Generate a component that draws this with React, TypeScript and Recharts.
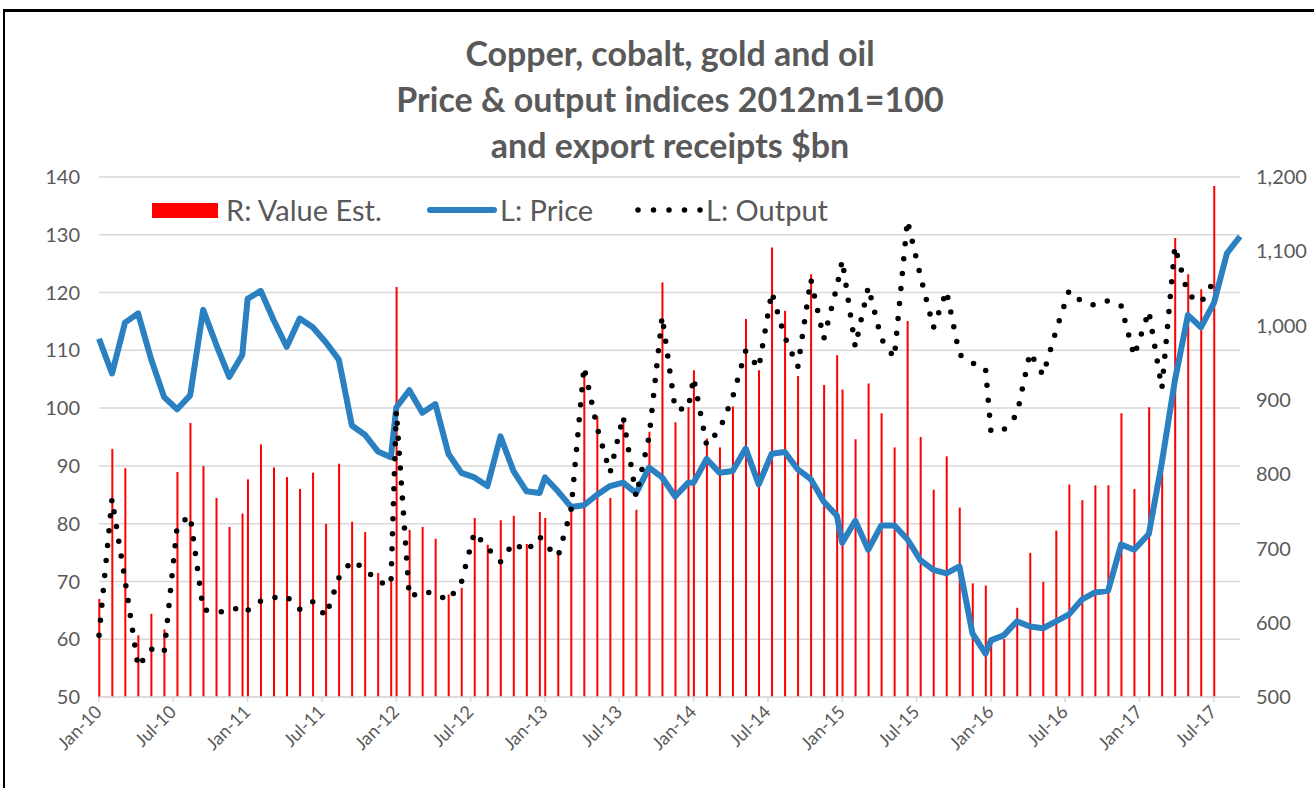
import React from 'react';
import {
  ComposedChart,
  Bar,
  Line,
  XAxis,
  YAxis,
  CartesianGrid,
} from 'recharts';

// Colours taken from the Excel original
const RED = '#FF0000';
const BLUE = '#2A80C0';
const GRID = '#D9D9D9';
const TEXT = '#595959';
const FONT = 'Lato, "Liberation Sans", sans-serif';

// Monthly price index, Jan-10 .. Aug-17 (left axis)
const PRICE = [
  112.0, 106.0, 114.8, 116.4, 108.5, 101.9, 99.8, 102.2, 117.0, 111.0, 105.4, 109.2,
  118.9, 120.3, 115.2, 110.6, 115.5, 114.0, 111.4, 108.4, 97.0, 95.4, 92.5, 91.5,
  100.1, 103.1, 99.2, 100.7, 92.1, 88.8, 88.0, 86.5, 95.1, 89.1, 85.6, 85.3,
  88.0, 85.6, 82.9, 83.2, 85.0, 86.5, 87.1, 85.3, 89.7, 88.0, 84.7, 87.1,
  87.1, 91.2, 88.8, 89.1, 93.0, 86.8, 92.1, 92.4, 89.4, 87.7, 83.8, 81.4,
  76.7, 80.5, 75.5, 79.7, 79.7, 77.3, 73.7, 72.0, 71.4, 72.6, 61.0, 57.5,
  59.8, 60.7, 63.1, 62.2, 61.9, 63.1, 64.3, 66.9, 68.1, 68.4, 76.4, 75.5,
  78.2, 90.6, 104.8, 116.1, 114.0, 118.2, 126.8, 129.7,
];

// Monthly output index, Jan-10 .. Jun-17 (left axis)
const OUTPUT = [
  60.7, 84.3, 70.2, 55.2, 58.3, 57.7, 79.6, 81.4, 65.1, 64.7, 64.8, 65.8,
  65.0, 66.6, 67.2, 67.4, 65.2, 66.5, 64.0, 70.6, 73.6, 72.2, 69.9, 69.4,
  99.5, 67.3, 68.3, 67.9, 66.7, 69.9, 78.5, 75.8, 73.4, 76.7, 75.2, 77.8,
  76.4, 74.3, 82.3, 107.2, 96.7, 88.8, 98.6, 84.7, 95.1, 115.9, 99.8, 99.9,
  105.3, 93.6, 96.3, 101.9, 109.9, 106.9, 120.1, 112.3, 107.1, 122.3, 112.0, 121.0,
  125.6, 110.6, 121.0, 112.0, 108.7, 132.5, 122.9, 113.9, 120.3, 109.3, 107.8, 106.9,
  96.0, 96.3, 98.9, 109.6, 105.7, 113.4, 120.3, 118.4, 117.8, 118.6, 117.7, 109.0,
  116.8, 103.4, 128.0, 119.7, 118.2, 122.0,
];

// Export receipts estimate, $bn, Jan-10 .. Jun-17 (right axis)
const VALUE_EST = [
  632, 834, 808, 583, 612, 591, 803, 869, 811, 768, 729, 747,
  793, 840, 809, 796, 780, 802, 733, 814, 736, 722, 667, 662,
  1052, 725, 729, 713, 638, 647, 741, 705, 738, 744, 706, 749,
  741, 697, 750, 933, 878, 768, 871, 752, 857, 1058, 870, 890,
  940, 848, 836, 891, 1009, 940, 1105, 1020, 932, 1069, 920, 960,
  914, 847, 922, 882, 836, 1006, 850, 779, 824, 755, 653, 650,
  580, 578, 620, 694, 655, 724, 786, 765, 785, 785, 882, 780,
  890, 809, 1118, 1069, 1049, 1188,
];

// The sheet's dates run ~32 days apart inside each year and restart in January;
// the 2017 rows start about three weeks into the month.
const STEP = 32 / 30.44;
const YEAR_LAG = [0, 0, 0, 0, 0, 0, 0, 0.75];

const X_TICKS = [0, 6, 12, 18, 24, 30, 36, 42, 48, 54, 60, 66, 72, 78, 84, 90];
const X_LABELS = [
  'Jan-10', 'Jul-10', 'Jan-11', 'Jul-11', 'Jan-12', 'Jul-12', 'Jan-13', 'Jul-13',
  'Jan-14', 'Jul-14', 'Jan-15', 'Jul-15', 'Jan-16', 'Jul-16', 'Jan-17', 'Jul-17',
];
const LEFT_TICKS = [50, 60, 70, 80, 90, 100, 110, 120, 130, 140];
const RIGHT_TICKS = [500, 600, 700, 800, 900, 1000, 1100, 1200];

const TITLE = ['Copper, cobalt, gold and oil', 'Price & output indices 2012m1=100', 'and export receipts $bn'];

const data = PRICE.map((price, i) => {
  const year = Math.floor(i / 12);
  const month = i % 12;
  return {
    x: year * 12 + YEAR_LAG[year] + month * STEP,
    price,
    output: OUTPUT[i],
    value: VALUE_EST[i],
  };
});

const XTick = ({ x, y, payload }: any) => {
  const label = X_LABELS[X_TICKS.indexOf(payload.value)];
  return (
    <text
      x={x + 4}
      y={y + 8}
      transform={`rotate(-45, ${x + 4}, ${y + 8})`}
      textAnchor="end"
      fill={TEXT}
      fontSize={18}
      fontFamily={FONT}
    >
      {label}
    </text>
  );
};

const Legend = () => (
  <div style={{ position: 'absolute', left: 0, top: 0, fontFamily: FONT, fontSize: 29, color: TEXT, lineHeight: '34px' }}>
    <div style={{ position: 'absolute', left: 152, top: 203, width: 66, height: 15, background: RED }} />
    <div style={{ position: 'absolute', left: 226, top: 193, whiteSpace: 'nowrap' }}>R: Value Est.</div>
    <div style={{ position: 'absolute', left: 427, top: 207, width: 70, height: 6, borderRadius: 3, background: BLUE }} />
    <div style={{ position: 'absolute', left: 500, top: 193, whiteSpace: 'nowrap' }}>L: Price</div>
    <svg style={{ position: 'absolute', left: 630, top: 200 }} width={80} height={20}>
      <line x1={8} y1={10} x2={72} y2={10} stroke="#000" strokeWidth={5.5} strokeLinecap="round" strokeDasharray="0 15.5" />
    </svg>
    <div style={{ position: 'absolute', left: 706, top: 193, whiteSpace: 'nowrap' }}>L: Output</div>
  </div>
);

export default function App() {
  return (
    <div style={{ position: 'absolute', left: 0, top: 0, width: 1314, height: 788, overflow: 'hidden', background: '#fff' }}>
      <div style={{ position: 'absolute', left: 3, top: 9, width: 1330, height: 800, borderTop: '3px solid #000', borderLeft: '2px solid #000' }} />
      {TITLE.map((line, i) => (
        <div
          key={line}
          style={{
            position: 'absolute',
            left: 0,
            width: 1340,
            top: 33 + i * 46,
            textAlign: 'center',
            fontFamily: FONT,
            fontWeight: 700,
            fontSize: 34,
            color: TEXT,
            lineHeight: '40px',
          }}
        >
          {line}
        </div>
      ))}
      <div style={{ position: 'absolute', left: 0, top: 0 }}>
        <ComposedChart width={1314} height={788} data={data} margin={{ top: 177, right: 14, bottom: 31, left: 39 }}>
          <CartesianGrid horizontal vertical={false} stroke={GRID} strokeWidth={1.5} yAxisId="left" />
          <XAxis
            type="number"
            dataKey="x"
            domain={[0, 92.1]}
            ticks={X_TICKS}
            interval={0}
            height={60}
            stroke={GRID}
            strokeWidth={1.5}
            tickSize={5}
            tickMargin={3}
            tick={<XTick />}
          />
          <YAxis
            yAxisId="left"
            domain={[50, 140]}
            ticks={LEFT_TICKS}
            width={60}
            axisLine={false}
            tickLine={false}
            tickSize={0}
            tickMargin={19}
            tick={{ fill: TEXT, fontSize: 20, fontFamily: FONT }}
          />
          <YAxis
            yAxisId="right"
            orientation="right"
            domain={[500, 1200]}
            ticks={RIGHT_TICKS}
            width={60}
            axisLine={false}
            tickLine={false}
            tickSize={0}
            tickMargin={16}
            tickFormatter={(v: number) => v.toLocaleString('en-US')}
            tick={{ fill: TEXT, fontSize: 20, fontFamily: FONT, textAnchor: 'start' }}
          />
          <Bar yAxisId="right" dataKey="value" fill={RED} barSize={2} isAnimationActive={false} />
          <Line
            yAxisId="left"
            dataKey="price"
            type="linear"
            stroke={BLUE}
            strokeWidth={6}
            strokeLinejoin="round"
            dot={false}
            isAnimationActive={false}
          />
          <Line
            yAxisId="left"
            dataKey="output"
            type="linear"
            stroke="#000"
            strokeWidth={5.5}
            strokeLinecap="round"
            strokeDasharray="0 15"
            dot={false}
            isAnimationActive={false}
          />
        </ComposedChart>
      </div>
      <Legend />
    </div>
  );
}
